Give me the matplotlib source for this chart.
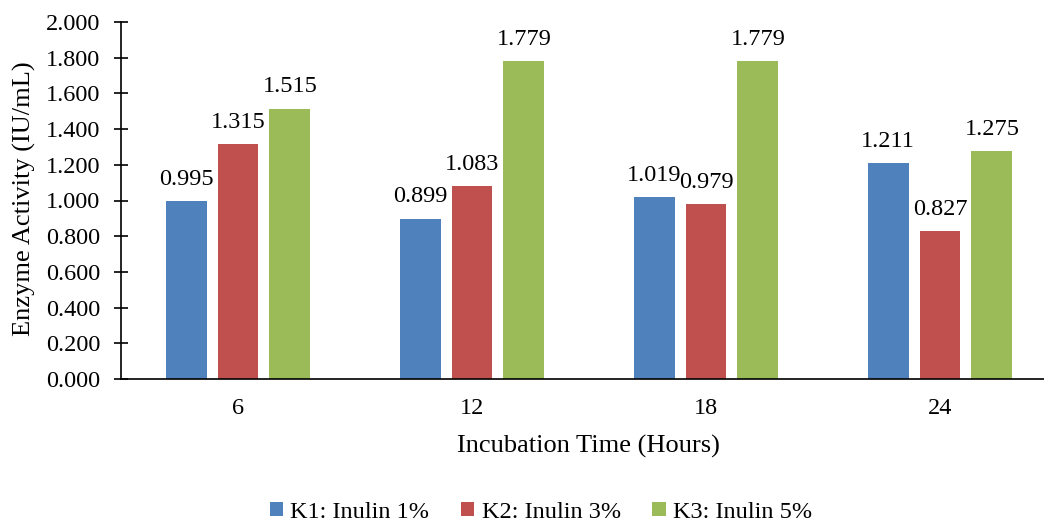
import numpy as np
import matplotlib
matplotlib.use("Agg")
import matplotlib.pyplot as plt

plt.rcParams['font.family'] = ['Liberation Serif', 'DejaVu Serif']

# incubation times and enzyme activity per inulin concentration
hours = ['6', '12', '18', '24']
k1 = [0.995, 0.899, 1.019, 1.211]
k2 = [1.315, 1.083, 0.979, 0.827]
k3 = [1.515, 1.779, 1.779, 1.275]
series = ['K1: Inulin 1%', 'K2: Inulin 3%', 'K3: Inulin 5%']
colors = ['#4F81BD', '#C0504D', '#9BBB59']

fig = plt.figure(figsize=(10.44, 5.21), dpi=100)
ax = fig.add_axes([121/1044, 142/521, 936/1044, 357/521])

x = np.arange(len(hours))
w = 0.175
step = 0.222
for i, (vals, name, c) in enumerate(zip([k1, k2, k3], series, colors)):
    pos = x + (i - 1) * step
    bars = ax.bar(pos, vals, width=w, color=c, label=name)
    for b, v in zip(bars, vals):
        ax.annotate(f'{v:.3f}', (b.get_x() + b.get_width()/2, v),
                    xytext=(0, 8), textcoords='offset points',
                    ha='center', va='bottom', fontsize=17.5)

ax.set_xlim(-0.5, 3.5)
ax.set_ylim(0, 2.0)
ticks = np.arange(0, 2.01, 0.2)
ax.set_yticks(ticks)
ax.set_yticklabels([f'{t:.3f}' for t in ticks])
ax.set_xticks(x)
ax.set_xticklabels(hours)
ax.tick_params(axis='y', direction='inout', length=10, width=1.2, labelsize=17.5, pad=10)
ax.tick_params(axis='x', length=0, labelsize=17.5, pad=14)
for s in ['top', 'right']:
    ax.spines[s].set_visible(False)
ax.spines['left'].set_linewidth(1.2)
ax.spines['bottom'].set_linewidth(1.2)

ax.set_ylabel('Enzyme Activity (IU/mL)', fontsize=19)
ax.yaxis.set_label_coords(-(121 - 36) / 936, (380 - 200) / 357)
ax.set_xlabel('Incubation Time (Hours)', fontsize=19)
ax.xaxis.set_label_coords((588 - 121) / 936, -(436 - 380) / 357)

fig.legend(loc='center', bbox_to_anchor=(541/1044, 1 - 512/521), ncol=3,
           frameon=False, fontsize=17.5, handlelength=0.55, handleheight=0.55,
           handletextpad=0.3, columnspacing=1.3)

fig.savefig('out.png', dpi=100)
